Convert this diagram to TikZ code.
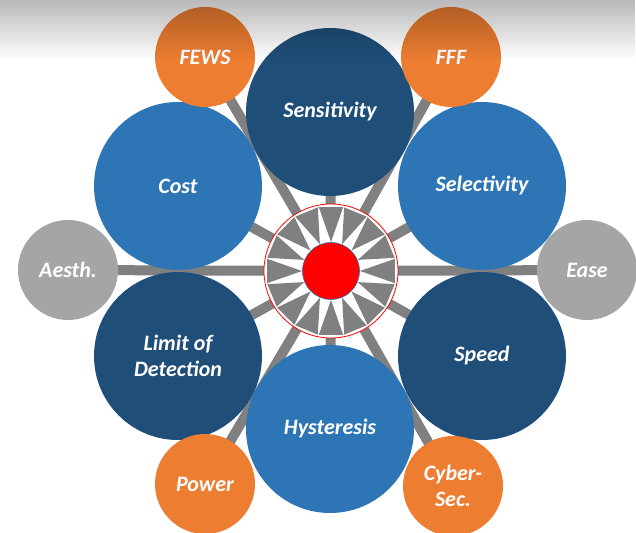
\documentclass[tikz,border=0pt]{standalone}
\usepackage{fontspec}
\setmainfont{Carlito}
\usetikzlibrary{backgrounds,fadings,calc}
\definecolor{dblue}{HTML}{1F4E79}
\definecolor{mblue}{HTML}{2E75B6}
\definecolor{orng}{HTML}{ED7D31}
\definecolor{lgray}{HTML}{A5A5A5}
\definecolor{spokegray}{HTML}{808080}
\tikzfading[name=topshade, top color=transparent!68, bottom color=transparent!100]
\tikzset{
  bubble/.style={circle, inner sep=0pt, draw=none, text=white, align=center,
    font=\fontsize{22}{26}\selectfont\bfseries\itshape},
  bigA/.style={bubble, fill=dblue, minimum size=168pt},
  bigB/.style={bubble, fill=mblue, minimum size=168pt},
  smallO/.style={bubble, fill=orng, minimum size=100pt},
  smallG/.style={bubble, fill=lgray, minimum size=100pt},
  spoke/.style={draw=spokegray, line width=10pt},
  ring/.style={circle, inner sep=0pt, minimum size=134pt, fill=white, draw=red, line width=0.8pt},
  core/.style={circle, inner sep=0pt, minimum size=57pt, fill=red, draw=mblue, line width=0.6pt},
  arrowtri/.style={fill=spokegray, draw=none}
}
\begin{document}
\begin{tikzpicture}[x=1pt,y=1pt]
\useasboundingbox (0,0) rectangle (636,532);
% big circles
\node[bigA] (sens) at (330,420) {Sensitivity};
\node[bigB] (sel)  at (482,346) {Selectivity};
\node[bigA] (speed) at (482,176) {Speed};
\node[bigB] (hyst) at (330,103) {Hysteresis};
\node[bigA] (lod)  at (178,176) {Limit of\\Detection};
\node[bigB] (cost) at (178,346) {Cost};
% small circles
\node[smallO] (fews) at (205,475) {FEWS};
\node[smallO] (fff)  at (451,475) {FFF};
\node[smallG] (ease) at (587,262) {Ease};
\node[smallG] (aesth) at (68,262) {Aesth.};
\node[smallO] (cyber) at (453,46) {Cyber-\\Sec.};
\node[smallO] (power) at (205,48) {Power};
% centre ring
\node[ring] (c) at (331,261) {};
\foreach \k in {0,...,15}{
  \fill[arrowtri] ($(c.center)+(\k*22.5:29)$) -- ($(c.center)+(\k*22.5+10.8:65)$) -- ($(c.center)+(\k*22.5-10.8:65)$) -- cycle;
}
\node[core] (k) at (c.center) {};
% background and spokes
\begin{scope}[on background layer]
  \fill[white] (0,0) rectangle (636,532);
  \foreach \t in {sens,sel,speed,hyst,lod,cost,fews,fff,ease,aesth,cyber,power}{
    \draw[spoke] (c.center) -- (\t.center);
  }
\end{scope}
% top shadow
\fill[black, path fading=topshade] (0,472) rectangle (636,542);
\end{tikzpicture}
\end{document}
